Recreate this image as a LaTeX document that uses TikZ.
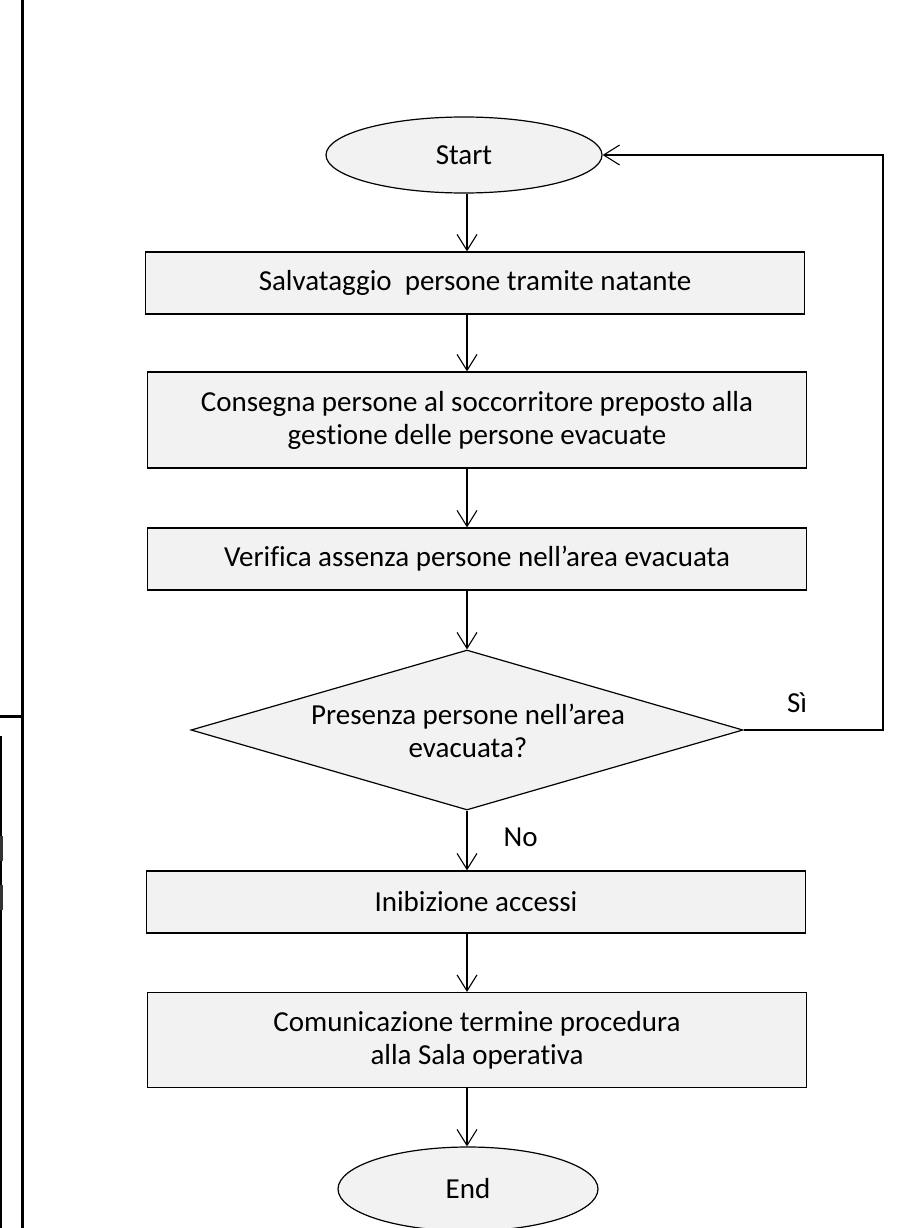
\documentclass[tikz,border=0pt]{standalone}
\usepackage{fontspec}
\setmainfont{Carlito}[Ligatures=NoCommon]
\usetikzlibrary{arrows.meta,shapes.geometric}
\definecolor{boxfill}{HTML}{F2F2F2}
\begin{document}
\begin{tikzpicture}[x=1pt,y=-1pt,
  txt/.style={font=\fontsize{29}{33}\selectfont, align=center, inner sep=0pt},
  stepbox/.style={draw=black, line width=1.2pt, fill=boxfill, minimum width=659pt, inner sep=0pt, txt},
  term/.style={ellipse, draw=black, line width=1.2pt, fill=boxfill, inner sep=0pt, txt},
  decision/.style={diamond, draw=black, line width=1.2pt, fill=boxfill, inner sep=0pt, aspect=3.44, minimum width=552pt, minimum height=160pt},
  flow/.style={line width=1.1pt, -{Straight Barb[length=16pt,width=20pt]}},
  border/.style={line width=3pt, black}
]
\useasboundingbox (0,0) rectangle (903,1228);
\clip (0,0) rectangle (903,1228);
% left page border fragments
\draw[border] (22,0) -- (22,1228);
\draw[border] (0,716) -- (22,716);
\draw[line width=1.5pt] (0.75,736) -- (0.75,1228);
\draw[line width=2.5pt, black!80] (1.25,836) -- (1.25,861);
\draw[line width=2.5pt, black!80] (1.25,885) -- (1.25,910);

% nodes
\node[term, minimum width=276pt, minimum height=76pt] (start) at (464,155) {Start};
\node[stepbox, minimum height=62pt] (b1) at (475,283) {Salvataggio~~persone tramite natante};
\node[stepbox, minimum height=96pt] (b2) at (477,420) {Consegna persone al soccorritore preposto alla\\gestione delle persone evacuate};
\node[stepbox, minimum height=62pt] (b3) at (477,559) {Verifica assenza persone nell’area evacuata};
\node[decision] (d) at (467,730) {};
\node[txt] (dt) at (468,731) {Presenza persone nell’area\\evacuata?};
\node[stepbox, minimum height=62pt] (b4) at (476,902) {Inibizione accessi};
\node[stepbox, minimum height=95pt] (b5) at (477,1040) {Comunicazione termine procedura\\alla Sala operativa};
\node[term, minimum width=260pt, minimum height=84pt] (end) at (468,1189) {End};
\coordinate (ax) at (467,0);
\coordinate (loopx) at (883,0);

% connectors
\draw[flow] (ax |- start.south) -- (ax |- b1.north);
\draw[flow] (ax |- b1.south) -- (ax |- b2.north);
\draw[flow] (ax |- b2.south) -- (ax |- b3.north);
\draw[flow] (ax |- b3.south) -- (d.north);
\draw[flow] (d.south) -- (ax |- b4.north) node[txt, pos=0.45, right=36pt] (no) {No};
\draw[flow] (ax |- b4.south) -- (ax |- b5.north);
\draw[flow] (ax |- b5.south) -- (ax |- end.north);
\draw[flow] (d.east) -- (loopx |- d.east) -- (loopx |- start.east) -- (start.east);
\node[txt] (si) at (797,703) {Sì};
\end{tikzpicture}
\end{document}
